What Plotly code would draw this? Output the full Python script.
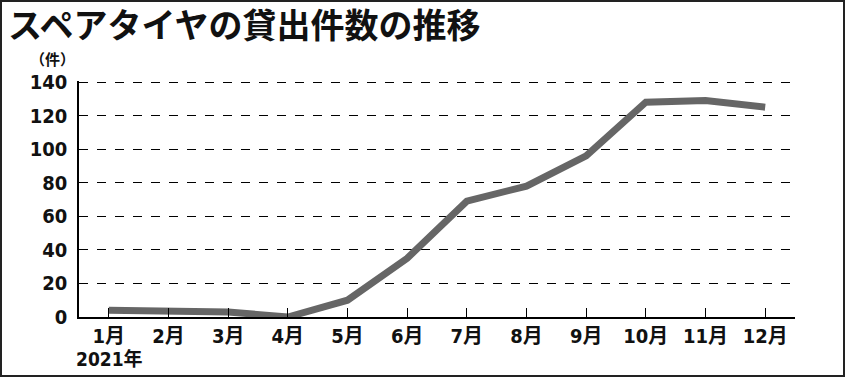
import plotly.graph_objects as go

months = ["1月", "2月", "3月", "4月", "5月", "6月", "7月", "8月", "9月", "10月", "11月", "12月"]
counts = [4, 3, 3, 0, 10, 35, 69, 78, 96, 128, 129, 125]
yticks = [0, 20, 40, 60, 80, 100, 120, 140]
title_text = "スペアタイヤの貸出件数の推移"
unit_text = "（件）"
year_text = "2021年"

W, H = 845, 377
L, R, T, B = 79, 50, 81, 60
PW, PH = W - L - R, H - T - B

def px(x):
    return (x - L) / PW

def py(y):
    return (H - B - y) / PH

FONT = "Liberation Sans Narrow, DejaVu Sans Condensed, Noto Sans CJK JP, sans-serif"
CJK = "Noto Sans CJK JP, sans-serif"

fig = go.Figure()
fig.add_trace(go.Scatter(
    x=list(range(len(months))), y=counts, mode="lines",
    line=dict(color="#666666", width=7, shape="linear"),
    hoverinfo="skip",
))

fig.update_layout(
    width=W, height=H,
    margin=dict(l=L, r=R, t=T, b=B),
    paper_bgcolor="white", plot_bgcolor="white",
    showlegend=False,
    xaxis=dict(
        range=[-0.5, 11.5],
        tickmode="array", tickvals=list(range(len(months))), ticktext=months,
        ticks="inside", ticklen=9, tickcolor="black", tickwidth=1,
        showline=True, linecolor="black", linewidth=1.5,
        showgrid=False, zeroline=False,
        tickfont=dict(family=FONT, size=20, color="#111111", weight="bold"),
    ),
    yaxis=dict(
        range=[0, 140.6],
        tickmode="array", tickvals=yticks,
        ticks="", showline=True, linecolor="black", linewidth=1.5,
        showgrid=True, gridcolor="black", gridwidth=1, griddash="dash",
        zeroline=False,
        tickfont=dict(family=FONT, size=20, color="#111111", weight="bold"),
        ticklabelstandoff=6,
    ),
    annotations=[
        dict(text=title_text, xref="paper", yref="paper", x=px(6), y=py(-3),
             xanchor="left", yanchor="top", showarrow=False,
             font=dict(family=CJK, size=34, color="#111111", weight="bold")),
        dict(text=unit_text, xref="paper", yref="paper", x=px(28), y=py(46),
             xanchor="left", yanchor="top", showarrow=False,
             font=dict(family=CJK, size=15, color="#111111", weight="bold")),
        dict(text=year_text, xref="paper", yref="paper", x=px(74), y=py(346),
             xanchor="left", yanchor="top", showarrow=False,
             font=dict(family=FONT, size=19, color="#111111", weight="bold")),
    ],
    shapes=[
        dict(type="rect", xref="paper", yref="paper",
             x0=px(1), x1=px(W - 1), y0=py(H - 1), y1=py(1),
             line=dict(color="#222222", width=2)),
    ],
)

fig.write_html("out.html")
